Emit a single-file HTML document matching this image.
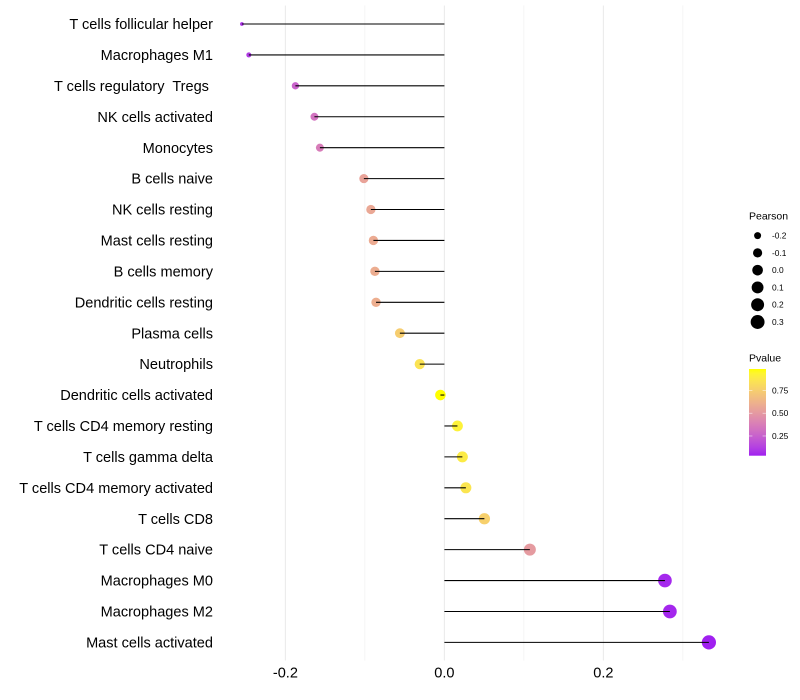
<!DOCTYPE html>
<html>
<head>
<meta charset="utf-8">
<title>Immune cell correlation lollipop chart</title>
<style>
html,body{margin:0;padding:0;background:#fff;width:800px;height:700px;overflow:hidden}
svg{display:block}
text{font-family:"Liberation Sans",Arial,sans-serif;fill:#000;white-space:pre}
</style>
</head>
<body>
<svg id="chart" xmlns="http://www.w3.org/2000/svg" width="800" height="700" viewBox="0 0 800 700">
  <defs>
    <linearGradient id="pvalue-gradient" x1="0" y1="1" x2="0" y2="0"></linearGradient>
  </defs>
  <rect x="0" y="0" width="800" height="700" fill="#ffffff"></rect>
  <g id="grid"></g>
  <g id="points"></g>
  <g id="segments"></g>
  <g id="ylabels"></g>
  <g id="xlabels"></g>
  <g id="size-legend">
    <text x="749" y="219.5" font-size="10.5">Pearson</text>
  </g>
  <g id="color-legend">
    <text x="749" y="361.5" font-size="10.5">Pvalue</text>
  </g>
</svg>
<script>
const categories = ["T cells follicular helper","Macrophages M1","T cells regulatory  Tregs ","NK cells activated","Monocytes","B cells naive","NK cells resting","Mast cells resting","B cells memory","Dendritic cells resting","Plasma cells","Neutrophils","Dendritic cells activated","T cells CD4 memory resting","T cells gamma delta","T cells CD4 memory activated","T cells CD8","T cells CD4 naive","Macrophages M0","Macrophages M2","Mast cells activated"];
const pearsonValues = [-0.2547,-0.2460,-0.1874,-0.1635,-0.1566,-0.1013,-0.0925,-0.0893,-0.0874,-0.0860,-0.0560,-0.0310,-0.0050,0.0164,0.0226,0.0270,0.0503,0.1075,0.2774,0.2836,0.3327];
const pValues = [0.09,0.11,0.26,0.33,0.37,0.55,0.57,0.585,0.595,0.60,0.746,0.85,0.984,0.92,0.89,0.86,0.76,0.51,0.055,0.05,0.034];
const xMajorTicks = [-0.2,0,0.2];
const xMajorLabels = ["-0.2","0.0","0.2"];
const xMinorTicks = [-0.1,0.1,0.3];
const sizeLegendValues = [-0.2,-0.1,0,0.1,0.2,0.3];
const sizeLegendLabels = ["-0.2","-0.1","0.0","0.1","0.2","0.3"];
const colorLegendValues = [0.25,0.5,0.75];
const colorLegendLabels = ["0.25","0.50","0.75"];

const NS = "http://www.w3.org/2000/svg";
function make(tag, parent, attrs) {
  const el = document.createElementNS(NS, tag);
  for (const k in attrs) el.setAttribute(k, attrs[k]);
  parent.appendChild(el);
  return el;
}

/* axis functions */
const panelTop = 5.5, panelBottom = 660.5;
function xScale(v) { return 444.4 + v * 795; }
function yScale(i) { return 24 + i * (642.4 - 24) / (categories.length - 1); }

const sizeMin = Math.min(...pearsonValues), sizeMax = Math.max(...pearsonValues);
function rScale(v) {
  const t = Math.max(0, (v - sizeMin) / (sizeMax - sizeMin));
  return 1.9 + 5.2 * Math.sqrt(t);
}

/* colour scale: Lab interpolation from purple to yellow */
function srgbToLab(c) {
  const f = c.map(x => { x /= 255; return x > 0.04045 ? Math.pow((x + 0.055) / 1.055, 2.4) : x / 12.92; });
  const X = (0.4124 * f[0] + 0.3576 * f[1] + 0.1805 * f[2]) / 0.95047;
  const Y = 0.2126 * f[0] + 0.7152 * f[1] + 0.0722 * f[2];
  const Z = (0.0193 * f[0] + 0.1192 * f[1] + 0.9505 * f[2]) / 1.08883;
  const g = t => t > 0.008856 ? Math.cbrt(t) : 7.787 * t + 16 / 116;
  return [116 * g(Y) - 16, 500 * (g(X) - g(Y)), 200 * (g(Y) - g(Z))];
}
function labToCss(l) {
  const fy = (l[0] + 16) / 116, fx = fy + l[1] / 500, fz = fy - l[2] / 200;
  const h = t => t * t * t > 0.008856 ? t * t * t : (t - 16 / 116) / 7.787;
  const X = h(fx) * 0.95047, Y = h(fy), Z = h(fz) * 1.08883;
  const lin = [3.2406 * X - 1.5372 * Y - 0.4986 * Z, -0.9689 * X + 1.8758 * Y + 0.0415 * Z, 0.0557 * X - 0.204 * Y + 1.057 * Z];
  const out = lin.map(v => {
    v = Math.min(1, Math.max(0, v));
    v = v > 0.0031308 ? 1.055 * Math.pow(v, 1 / 2.4) - 0.055 : 12.92 * v;
    return Math.round(v * 255);
  });
  return "rgb(" + out.join(",") + ")";
}
const labLow = srgbToLab([160, 32, 240]);
const labHigh = srgbToLab([255, 255, 0]);
const pMin = Math.min(...pValues), pMax = Math.max(...pValues);
function colorAtFraction(t) {
  return labToCss(labLow.map((a, i) => a + (labHigh[i] - a) * t));
}
function colorScale(p) { return colorAtFraction((p - pMin) / (pMax - pMin)); }

/* grid */
const grid = document.getElementById("grid");
xMinorTicks.forEach(v => {
  const l = make("line", grid, {x1: xScale(v), x2: xScale(v), y1: panelTop, y2: panelBottom, stroke: "#ebebeb", "stroke-width": 0.55});
  
  
});
xMajorTicks.forEach(v => {
  const l = make("line", grid, {x1: xScale(v), x2: xScale(v), y1: panelTop, y2: panelBottom, stroke: "#ebebeb", "stroke-width": 1.07});
  
  
});

/* marks */
const pointsG = document.getElementById("points");
const segG = document.getElementById("segments");
const yG = document.getElementById("ylabels");
categories.forEach((name, i) => {
  const c = make("circle", pointsG, {cx: xScale(pearsonValues[i]), cy: yScale(i), r: rScale(pearsonValues[i]), fill: colorScale(pValues[i])});
  
  
  const s = make("line", segG, {x1: xScale(0), x2: xScale(pearsonValues[i]), y1: yScale(i), y2: yScale(i), stroke: "#000", "stroke-width": 1.07});
  
  
  const t = make("text", yG, {x: 213, y: yScale(i) + 5.1, "text-anchor": "end", "font-size": 14.55});
  
  
  t.textContent = name;
});

/* x labels */
const xG = document.getElementById("xlabels");
xMajorTicks.forEach((v, i) => {
  const t = make("text", xG, {x: xScale(v), y: 677.5, "text-anchor": "middle", "font-size": 14.55});
  
  
  t.textContent = xMajorLabels[i];
});

/* size legend */
const sizeG = document.getElementById("size-legend");
sizeLegendValues.forEach((v, i) => {
  const y = 235.6 + i * 17.28;
  const c = make("circle", sizeG, {cx: 757.6, cy: y, r: rScale(v), fill: "#000"});
  
  
  const t = make("text", sizeG, {x: 772, y: y + 3, "font-size": 8.4});
  
  
  t.textContent = sizeLegendLabels[i];
});

/* colour legend */
const grad = document.getElementById("pvalue-gradient");
for (let k = 0; k <= 20; k++) {
  make("stop", grad, {offset: (k * 5) + "%", "stop-color": colorAtFraction(k / 20)});
}
const colorG = document.getElementById("color-legend");
const barTop = 369, barBottom = 455.7, barLeft = 749, barRight = 766;
function barY(p) { return barBottom - (p - pMin) / (pMax - pMin) * (barBottom - barTop); }
const bar = make("rect", colorG, {x: barLeft, y: barTop, width: barRight - barLeft, height: barBottom - barTop, fill: "url(#pvalue-gradient)"});


colorLegendValues.forEach((p, i) => {
  const y = barY(p);
  const a = make("line", colorG, {x1: barLeft, x2: barLeft + 3.4, y1: y, y2: y, stroke: "#fff", "stroke-width": 0.5});
  
  
  const b = make("line", colorG, {x1: barRight - 3.4, x2: barRight, y1: y, y2: y, stroke: "#fff", "stroke-width": 0.5});
  
  
  const t = make("text", colorG, {x: 772, y: y + 3, "font-size": 8.4});
  
  
  t.textContent = colorLegendLabels[i];
});
</script>
</body>
</html>
